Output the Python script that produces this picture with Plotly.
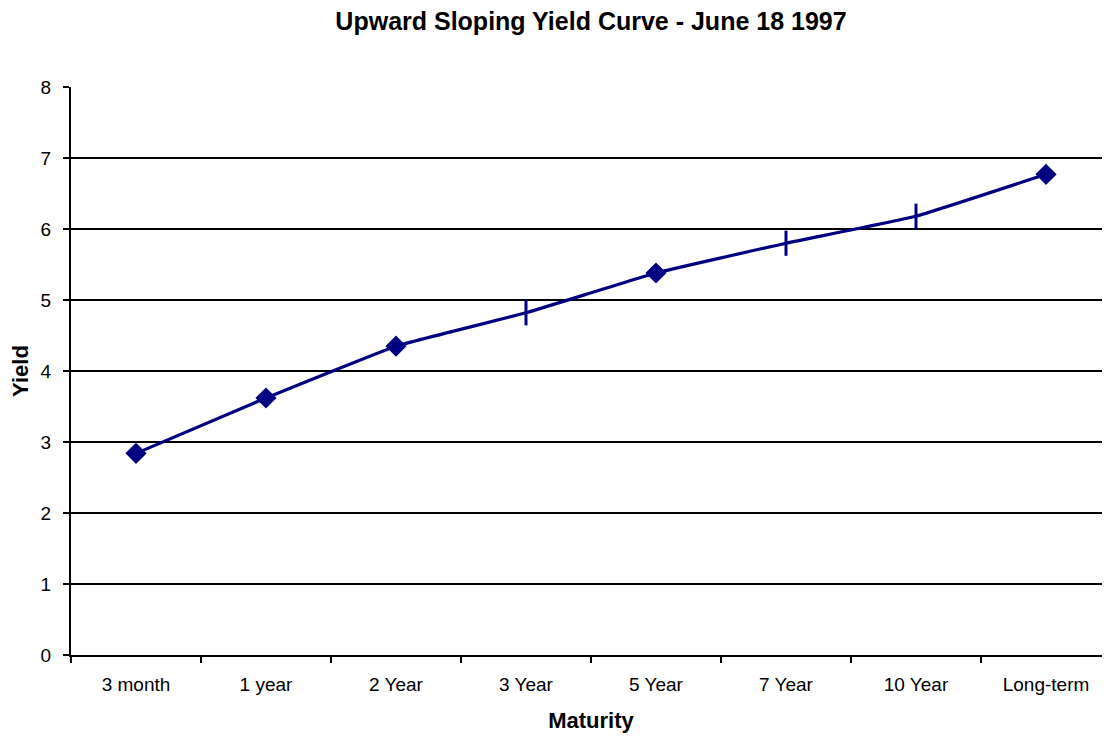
import plotly.graph_objects as go

maturities = ["3 month", "1 year", "2 Year", "3 Year", "5 Year", "7 Year", "10 Year", "Long-term"]
yields = [2.84, 3.62, 4.35, 4.82, 5.38, 5.80, 6.18, 6.77]
y_ticks = [0, 1, 2, 3, 4, 5, 6, 7, 8]

tick_marked = {"3 Year", "7 Year", "10 Year"}
symbols = ["line-ns" if m in tick_marked else "diamond" for m in maturities]
sizes = [18 if m in tick_marked else 13 for m in maturities]

navy = "#000080"
font_family = "Liberation Sans, Arial, sans-serif"

fig = go.Figure()
fig.add_trace(go.Scatter(
    x=maturities, y=yields, mode="lines+markers",
    line=dict(color=navy, width=3.2, shape="spline", smoothing=0.3),
    marker=dict(symbol=symbols, size=sizes, color=navy, opacity=1,
                line=dict(color=navy, width=3)),
    showlegend=False,
))

fig.update_layout(
    width=1110, height=739,
    paper_bgcolor="white", plot_bgcolor="white",
    margin=dict(l=63, r=7, t=79, b=92),
    font=dict(family=font_family, color="black", size=19),
    title=dict(text="<b>Upward Sloping Yield Curve - June 18 1997</b>",
               x=0.5, xref="paper", xanchor="center",
               y=1 - 13 / 739, yref="container", yanchor="middle",
               font=dict(size=25, family=font_family)),
    xaxis=dict(
        type="category", range=[-0.5, 7.5], automargin=False,
        showline=True, linecolor="black", linewidth=2,
        ticks="outside", ticklen=6, tickwidth=2, tickcolor="black",
        tickson="boundaries", showgrid=False, zeroline=False,
        ticklabelstandoff=11,
        title=dict(text="<b>Maturity</b>", font=dict(size=22), standoff=19),
    ),
    yaxis=dict(
        range=[0, 8], tickvals=y_ticks, automargin=False,
        showline=True, linecolor="black", linewidth=2,
        ticks="outside", ticklen=6, tickwidth=2, tickcolor="black",
        showgrid=True, gridcolor="black", gridwidth=2, zeroline=False,
        ticklabelstandoff=8,
        title=dict(text="<b>Yield</b>", font=dict(size=22), standoff=14),
    ),
)

fig.write_html("out.html")
